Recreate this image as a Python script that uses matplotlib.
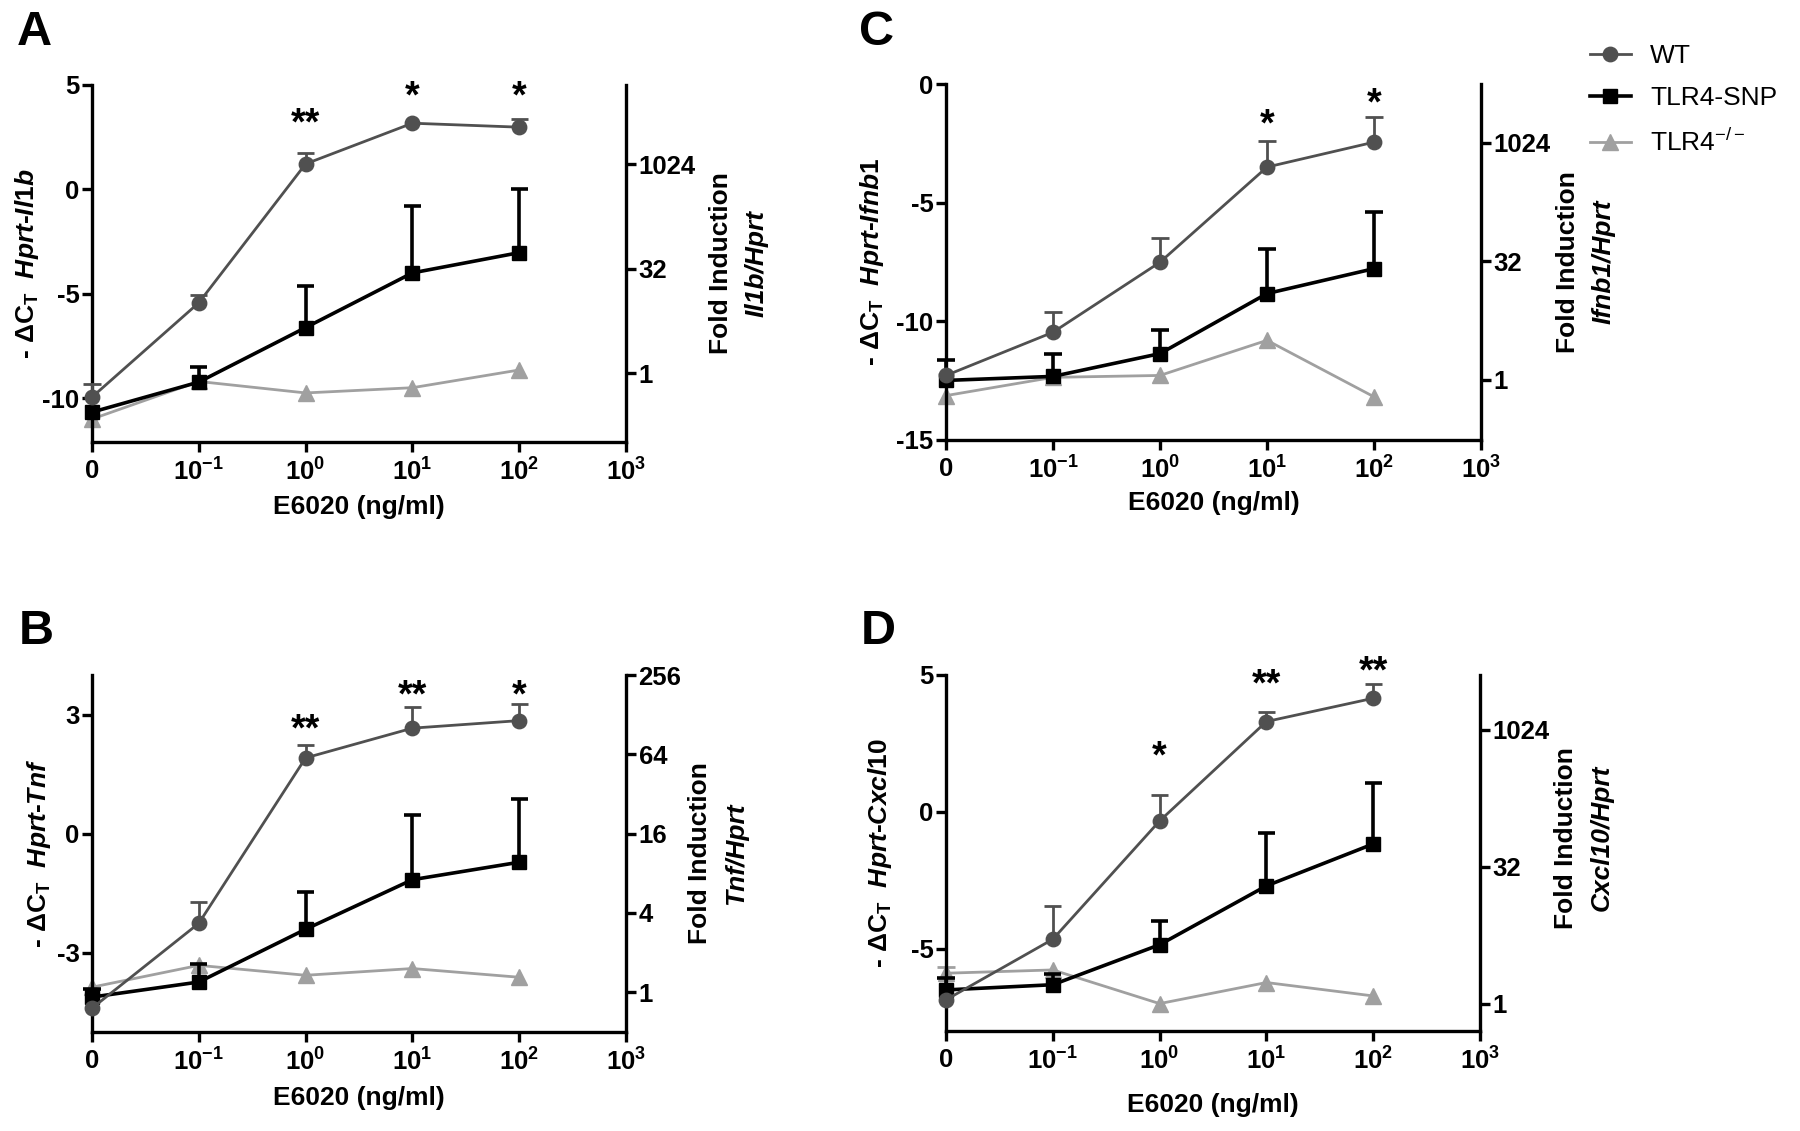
import numpy as np
import matplotlib
matplotlib.use('Agg')
import matplotlib.pyplot as plt
from matplotlib.transforms import offset_copy

plt.rcParams.update({
    'font.family': ['Liberation Sans', 'DejaVu Sans'],
    'font.weight': 'bold',
    'mathtext.fontset': 'custom',
    'mathtext.rm': 'Liberation Sans:bold',
    'mathtext.it': 'Liberation Sans:italic:bold',
    'mathtext.bf': 'Liberation Sans:bold',
})

# E6020 doses (ng/ml); 0 is drawn at the axis break
doses = [0, 0.1, 1, 10, 100]
dose_labels = ['0', '10$^{-1}$', '10$^{0}$', '10$^{1}$', '10$^{2}$', '10$^{3}$']
groups = ['WT', 'TLR4-SNP', 'TLR4$\\mathregular{^{-/-}}$']

# -dCt values (mean) and upper SEM per group
il1b_wt = [-9.95, -5.43, 1.22, 3.17, 2.98]
il1b_wt_err = [0.65, 0.38, 0.5, 0.0, 0.39]
il1b_snp = [-10.67, -9.23, -6.62, -4.0, -3.03]
il1b_snp_err = [0.0, 0.73, 1.98, 3.2, 3.03]
il1b_ko = [-11.0, -9.2, -9.75, -9.5, -8.65]
il1b_ko_err = [0, 0, 0, 0, 0]
il1b_stars = ['', '', '**', '*', '*']

tnf_wt = [-4.4, -2.26, 1.91, 2.66, 2.85]
tnf_wt_err = [0.0, 0.53, 0.33, 0.53, 0.42]
tnf_snp = [-4.12, -3.74, -2.41, -1.16, -0.72]
tnf_snp_err = [0.2, 0.45, 0.93, 1.64, 1.6]
tnf_ko = [-3.87, -3.32, -3.57, -3.4, -3.62]
tnf_ko_err = [0, 0, 0, 0, 0]
tnf_stars = ['', '', '**', '**', '*']

ifnb1_wt = [-12.28, -10.46, -7.51, -3.5, -2.45]
ifnb1_wt_err = [0.0, 0.84, 1.01, 1.09, 1.05]
ifnb1_snp = [-12.49, -12.32, -11.36, -8.83, -7.78]
ifnb1_snp_err = [0.84, 0.96, 1.01, 1.86, 2.38]
ifnb1_ko = [-13.13, -12.36, -12.28, -10.8, -13.18]
ifnb1_ko_err = [0, 0, 0, 0, 0]
ifnb1_stars = ['', '', '', '*', '*']

cxcl10_wt = [-6.86, -4.65, -0.33, 3.3, 4.15]
cxcl10_wt_err = [0.0, 1.2, 0.95, 0.36, 0.52]
cxcl10_snp = [-6.5, -6.31, -4.85, -2.7, -1.17]
cxcl10_snp_err = [0.43, 0.39, 0.85, 1.92, 2.24]
cxcl10_ko = [-5.89, -5.77, -7.0, -6.23, -6.72]
cxcl10_ko_err = [0.22, 0, 0, 0, 0]
cxcl10_stars = ['', '', '*', '**', '**']

WT_COLOR = '#505050'
SNP_COLOR = '#000000'
KO_COLOR = '#a0a0a0'

W, H = 1800, 1131
fig = plt.figure(figsize=(W / 100, H / 100), dpi=100)

xpos = np.array([np.log10(d) if d > 0 else -2.0 for d in doses])


def px_rect(l, t, r, b):
    return [l / W, 1 - b / H, (r - l) / W, (b - t) / H]


def panel(rect, letter, letter_xy, gene, data, stars, star_y, ylim, yticks,
          offset, fold_ticks, ylab_dx, flab_dx, flab_dy, xlab_dy):
    ax = fig.add_axes(px_rect(*rect))
    styles = [(KO_COLOR, '^', 11, 2.0, 2), (SNP_COLOR, 's', 9.6, 2.6, 3),
              (WT_COLOR, 'o', 10.4, 2.0, 4)]
    handles = []
    for (y, e), (c, m, ms, lw, z) in zip(data, styles):
        y = np.asarray(y, float)
        e = np.asarray(e, float)
        has = e > 0
        ax.vlines(xpos[has], y[has], y[has] + e[has], color=c, lw=lw, zorder=z, clip_on=False)
        ax.hlines(y[has] + e[has], xpos[has] - 0.08, xpos[has] + 0.08, color=c, lw=lw,
                  zorder=z, clip_on=False)
        h, = ax.plot(xpos, y, color=c, lw=lw, marker=m, ms=ms, zorder=z, clip_on=False)
        handles.append(h)

    ax.set_xlim(-2, 3)
    ax.set_ylim(*ylim)
    ax.set_xticks(np.arange(-2, 4))
    ax.set_xticklabels(dose_labels)
    ax.set_yticks(yticks)
    ax.set_yticklabels([str(t) for t in yticks])
    ax.spines[['top', 'right']].set_visible(False)
    for s in ['left', 'bottom']:
        ax.spines[s].set_linewidth(2.4)
    ax.tick_params(width=2.4, length=7, labelsize=18.5, pad=2)
    ax.tick_params(axis='x', pad=5)

    ax2 = ax.twinx()
    ax2.set_ylim(ylim[0] + offset, ylim[1] + offset)
    ax2.set_yticks(np.log2(fold_ticks))
    ax2.set_yticklabels([str(f) for f in fold_ticks])
    ax2.spines[['top', 'left', 'bottom']].set_visible(False)
    ax2.spines['right'].set_linewidth(2.4)
    ax2.tick_params(width=2.4, length=7, labelsize=18.5, pad=2)

    for x, s, sy in zip(xpos, stars, star_y):
        if s:
            ax.annotate(s, (x, sy), xytext=(0, -16), textcoords='offset points',
                        ha='center', va='baseline', fontsize=27, annotation_clip=False)

    ax.text(0, 0.5, '- ΔC$_\\mathrm{T}$  $\\mathit{Hprt}$-$\\mathit{%s}$' % gene,
            transform=offset_copy(ax.transAxes, fig=fig, x=ylab_dx, y=0, units='dots'),
            rotation=90, ha='center', va='center', fontsize=19)
    ax.text(1, 0.5, 'Fold Induction',
            transform=offset_copy(ax.transAxes, fig=fig, x=flab_dx - 18, y=flab_dy, units='dots'),
            rotation=90, ha='center', va='center', fontsize=19)
    ax.text(1, 0.5, gene + '/Hprt',
            transform=offset_copy(ax.transAxes, fig=fig, x=flab_dx + 18, y=flab_dy, units='dots'),
            rotation=90, ha='center', va='center', fontsize=19, fontstyle='italic')
    ax.text(0.5, 0, 'E6020 (ng/ml)',
            transform=offset_copy(ax.transAxes, fig=fig, x=0, y=-xlab_dy, units='dots'),
            ha='center', va='center', fontsize=19)
    fig.text(letter_xy[0] / W, 1 - letter_xy[1] / H, letter, fontsize=35,
             ha='left', va='top')
    return handles


hs = panel((92, 85, 626, 442), 'A', (17, 10), 'Il1b',
           [(il1b_ko, il1b_ko_err), (il1b_snp, il1b_snp_err), (il1b_wt, il1b_wt_err)],
           il1b_stars, [0, 0, 3.7, 5.0, 5.0], (-12.1, 5), [5, 0, -5, -10],
           8.8, [1, 32, 1024], -65, 113, 0, 65)
panel((92, 675, 626, 1032), 'B', (19, 609), 'Tnf',
      [(tnf_ko, tnf_ko_err), (tnf_snp, tnf_snp_err), (tnf_wt, tnf_wt_err)],
      tnf_stars, [0, 0, 2.91, 3.77, 3.77], (-5, 4), [3, 0, -3],
      4, [1, 4, 16, 64, 256], -53, 92, 0, 66)
panel((946, 84, 1481, 440), 'C', (859, 10), 'Ifnb1',
      [(ifnb1_ko, ifnb1_ko_err), (ifnb1_snp, ifnb1_snp_err), (ifnb1_wt, ifnb1_wt_err)],
      ifnb1_stars, [0, 0, 0, -1.22, -0.34], (-15, 0), [0, -5, -10, -15],
      12.47, [1, 32, 1024], -74, 105, 0, 63)
panel((946, 675, 1480, 1031), 'D', (861, 609), 'Cxcl10',
      [(cxcl10_ko, cxcl10_ko_err), (cxcl10_snp, cxcl10_snp_err), (cxcl10_wt, cxcl10_wt_err)],
      cxcl10_stars, [0, 0, 2.45, 5.06, 5.55], (-8, 5), [5, 0, -5],
      7, [1, 32, 1024], -66, 104, 15, 74)

fig.legend(hs[::-1], groups, loc='upper left', bbox_to_anchor=(1590 / W, 1 - 44 / H),
           frameon=False, borderpad=0, borderaxespad=0, handlelength=1.55,
           handletextpad=0.72, labelspacing=0.7,
           prop={'family': 'Liberation Sans', 'weight': 'normal', 'size': 19})

fig.savefig('out.png', dpi=100, facecolor='white')
